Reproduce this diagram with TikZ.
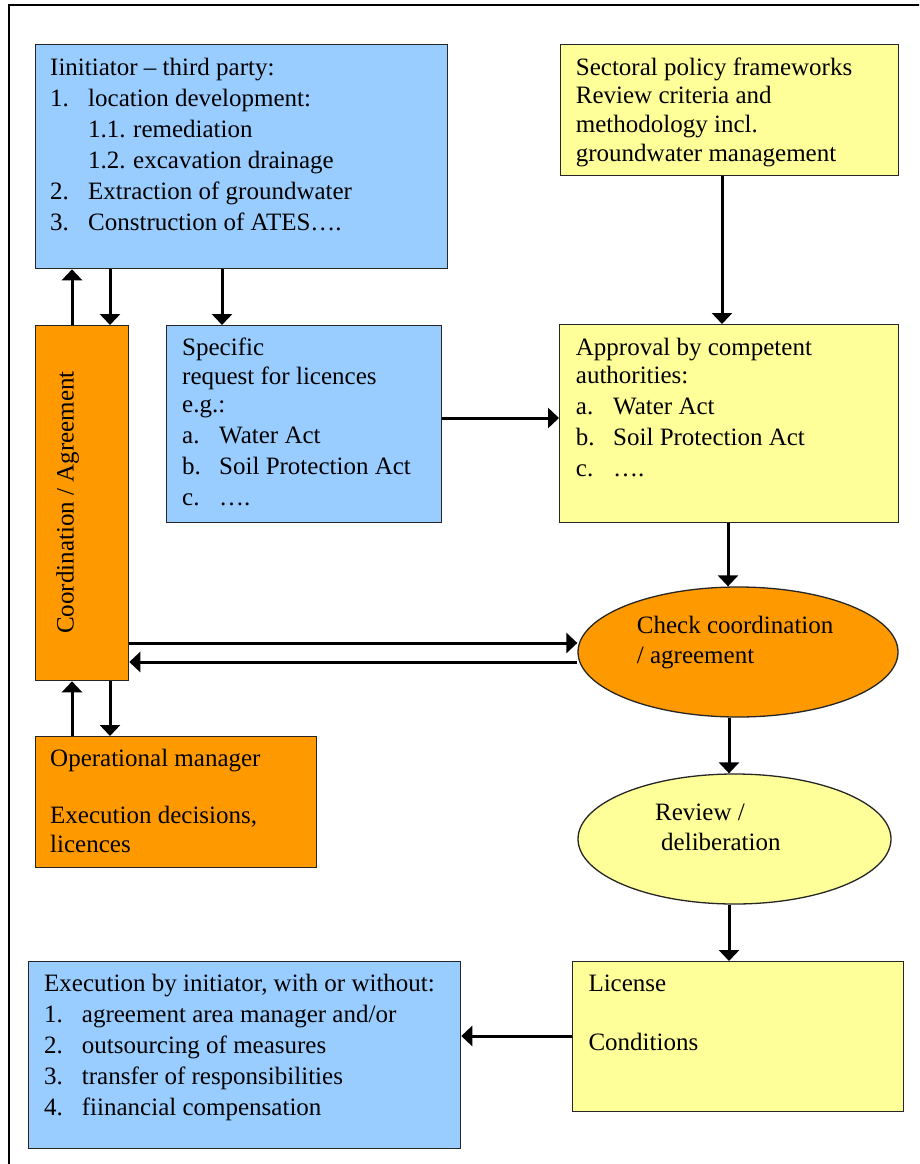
\documentclass[tikz,border=0pt]{standalone}
\usepackage{fontspec}
\setmainfont{Liberation Serif}
\usetikzlibrary{arrows.meta,shapes.geometric}

\definecolor{paleblue}{HTML}{99CCFF}
\definecolor{paleyellow}{HTML}{FFFF99}
\definecolor{amber}{HTML}{FF9900}

% strut that fixes the top of every text block 20pt above its first baseline
\newcommand{\topstrut}{\rule{0pt}{20pt}}
\newcommand{\itm}[2]{\makebox[#1][l]{#2}}

\begin{document}
\begin{tikzpicture}[x=1pt,y=-1pt,
  box/.style={draw=black!85, line width=1.3pt, rectangle, inner sep=0pt, anchor=north west},
  oval/.style={draw=black!85, line width=1.3pt, ellipse, inner sep=0pt},
  txt/.style={anchor=north west, inner sep=0pt, align=left, font=\fontsize{25}{#1}\selectfont},
  txt/.default=28.75,
  flow/.style={line width=3pt, -{Triangle[width=20pt,length=11pt]}},
]
\useasboundingbox (0,0) rectangle (919,1164);
\clip (0,0) rectangle (919,1164);
\fill[white] (0,0) rectangle (919,1164);

% outer frame, running past the right and bottom edges
\draw[line width=2pt] (9,5) rectangle (940,1185);

% boxes
\node[box, fill=paleblue,   minimum width=412pt, minimum height=224pt] (init)   at (35,44) {};
\node[box, fill=paleyellow, minimum width=338pt, minimum height=131pt] (sector) at (560,44) {};
\node[box, fill=amber,      minimum width=93pt,  minimum height=355pt] (coord)  at (35,325) {};
\node[box, fill=paleblue,   minimum width=275pt, minimum height=197pt] (spec)   at (166,325) {};
\node[box, fill=paleyellow, minimum width=339pt, minimum height=198pt] (approv) at (559,324) {};
\node[oval, fill=amber,      minimum width=320pt, minimum height=130pt] (check)  at (738,652) {};
\node[box, fill=amber,      minimum width=281pt, minimum height=131pt] (opman)  at (35,736) {};
\node[oval, fill=paleyellow, minimum width=313pt, minimum height=130pt] (review) at (734.5,839) {};
\node[box, fill=paleblue,   minimum width=432.5pt, minimum height=187pt] (exec) at (27.5,961) {};
\node[box, fill=paleyellow, minimum width=331pt, minimum height=150pt] (lic)    at (572,961) {};

% texts
\node[txt=31] (init-t) at (50,55) {\topstrut Iinitiator – third party:\\
  \itm{38pt}{1.}location development:\\
  \hspace*{38pt}\itm{45pt}{1.1.}remediation\\
  \hspace*{38pt}\itm{45pt}{1.2.}excavation drainage\\
  \itm{38pt}{2.}Extraction of groundwater\\
  \itm{38pt}{3.}Construction of ATES….};

\node[txt] (sector-t) at (575.7,55) {\topstrut Sectoral policy frameworks\\
  Review criteria and\\ methodology incl.\\ groundwater management};

\node[txt=28.5] (spec-t) at (182,335.7) {\topstrut Specific\\ request for licences\\ e.g.:\\[2.5pt]
  \itm{37pt}{a.}Water Act\\[2.5pt]
  \itm{37pt}{b.}Soil Protection Act\\[2.5pt]
  \itm{37pt}{c.}….};

\node[txt=28] (approv-t) at (575.7,335) {\topstrut Approval by competent\\ authorities:\\[3pt]
  \itm{37.3pt}{a.}Water Act\\[3pt]
  \itm{37.3pt}{b.}Soil Protection Act\\[3pt]
  \itm{37.3pt}{c.}….};

\node[txt=30] (check-t) at (636.7,613) {\topstrut Check coordination\\ / agreement};

\node[txt=29.3] (review-t) at (655,800.7) {\topstrut Review /\\ \hspace*{6pt}deliberation};

\node[txt] (opman-t) at (50,746) {\topstrut Operational manager\\[28.75pt]
  Execution decisions,\\ licences};

\node[txt=30.8] (exec-t) at (44,971.7) {\topstrut Execution by initiator, with or without:\\
  \itm{37.7pt}{1.}agreement area manager and/or\\
  \itm{37.7pt}{2.}outsourcing of measures\\
  \itm{37.7pt}{3.}transfer of responsibilities\\
  \itm{37.7pt}{4.}fiinancial compensation};

\node[txt] (lic-t) at (588.3,971.7) {\topstrut License\\[29.5pt] Conditions};

\node[anchor=base, rotate=90, inner sep=0pt, font=\fontsize{25}{28.75}\selectfont]
  (coord-t) at (73.5,502.5) {Coordination / Agreement};

% connector columns and rows
\coordinate (colA) at (72,0);
\coordinate (colB) at (110,0);
\coordinate (colC) at (222,0);
\coordinate (colD) at (722,0);
\coordinate (colE) at (728,0);
\coordinate (colF) at (729,0);
\coordinate (rowA) at (0,418);
\coordinate (rowB) at (0,643);
\coordinate (rowC) at (0,662);
\coordinate (rowD) at (0,1036);

% connectors
\draw[flow] (coord.north -| colA) -- (init.south -| colA);
\draw[flow] (init.south -| colB) -- (coord.north -| colB);
\draw[flow] (init.south -| colC) -- (spec.north -| colC);
\draw[flow] (sector.south -| colD) -- (approv.north -| colD);
\draw[flow] (spec.east |- rowA) -- (approv.west |- rowA);
\draw[flow] (approv.south -| colE) -- (check.north -| colE);
\draw[flow] (coord.east |- rowB) -- (check.west |- rowB);
\draw[flow] (check.west |- rowC) -- (coord.east |- rowC);
\draw[flow] (opman.north -| colA) -- (coord.south -| colA);
\draw[flow] (coord.south -| colB) -- (opman.north -| colB);
\draw[flow] (check.south -| colF) -- (review.north -| colF);
\draw[flow] (review.south -| colF) -- (lic.north -| colF);
\draw[flow] (lic.west |- rowD) -- (exec.east |- rowD);
\end{tikzpicture}
\end{document}
